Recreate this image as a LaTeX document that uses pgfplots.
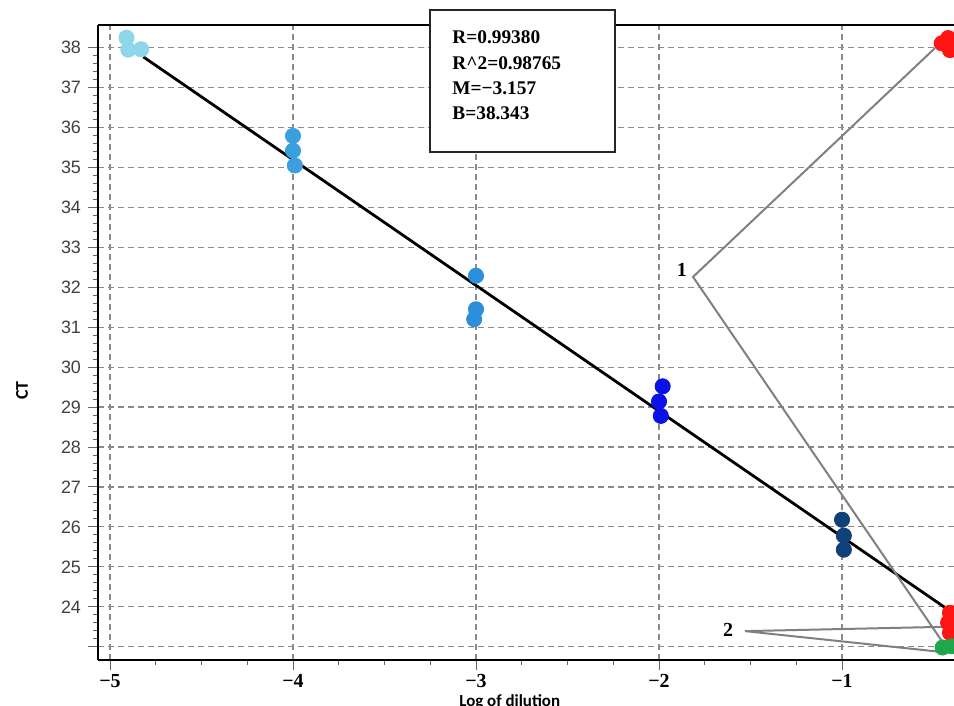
\documentclass[border=0pt]{standalone}
\usepackage{pgfplots}
\pgfplotsset{compat=1.18}
\usepackage{fontspec}
\setmainfont{Liberation Serif}
\newfontfamily\arial{Liberation Sans}
\newfontfamily\calib{Carlito}

\definecolor{ptcyan}{HTML}{8ED6EA}
\definecolor{ptblueA}{HTML}{3A9FDC}
\definecolor{ptblueB}{HTML}{2C8FDB}
\definecolor{ptblueC}{HTML}{0A12E6}
\definecolor{ptnavy}{HTML}{10407A}
\definecolor{ptred}{HTML}{FF1414}
\definecolor{ptgreen}{HTML}{1FA84A}
\definecolor{gridgray}{HTML}{8A8A8A}

\begin{document}
\begin{tikzpicture}
\begin{axis}[
    scale only axis,
    width=428bp, height=317.5bp,
    xmin=-5.0656, xmax=-0.388,
    ymin=22.667, ymax=38.568,
    axis x line*=box,
    axis y line*=left,
    axis line style={line width=1.3bp, black},
    xtick={-5,-4,-3,-2,-1},
    xticklabels={−5,−4,−3,−2,−1},
    ytick={23,...,38},
    yticklabels={,24,25,26,27,28,29,30,31,32,33,34,35,36,37,38},
    minor x tick num=3,
    minor y tick num=4,
    xtick pos=lower, ytick pos=left,
    tick align=outside,
    major tick length=5bp, minor tick length=2.5bp,
    tick style={gray!80!black, line width=0.5bp},
    xticklabel style={font=\bfseries\fontsize{10}{12}\selectfont, text=black, yshift=1.5bp},
    yticklabel style={font=\arial\fontsize{9}{10}\selectfont, text=black!75},
    grid=major,
    major grid style={gridgray, line width=0.6bp, dash pattern=on 3bp off 2bp},
    xlabel={Log of dilution},
    xlabel style={font=\calib\bfseries\fontsize{8.5}{10}\selectfont, at={(axis description cs:0.481,0)}, anchor=north, yshift=-13.8bp},
    ylabel={CT},
    ylabel style={font=\calib\bfseries\fontsize{9}{10}\selectfont, at={(axis description cs:-0.0888,0.424)}, anchor=center},
    clip=false,
    every axis plot/.append style={mark size=3.8bp},
]

% regression line
\addplot[black, line width=1.4bp] coordinates {(-4.818,37.77) (-0.437,23.98)};

% pointer lines
\draw[gray, line width=1bp] (axis cs:-0.492,37.99) -- (axis cs:-1.814,32.26) -- (axis cs:-0.448,23.1);
\draw[gray, line width=1bp] (axis cs:-0.42,23.5) -- (axis cs:-1.53,23.39) -- (axis cs:-0.48,22.88);
\node[font=\bfseries\fontsize{10}{12}\selectfont] at (axis cs:-1.875,32.43) {1};
\node[font=\bfseries\fontsize{10}{12}\selectfont] at (axis cs:-1.623,23.43) {2};

\addplot[only marks, mark=*, ptcyan, mark options={draw=ptcyan, fill=ptcyan}] coordinates {(-4.91,38.25) (-4.90,37.95) (-4.83,37.96)};
\addplot[only marks, mark=*, ptblueA, mark options={draw=ptblueA, fill=ptblueA}] coordinates {(-4.00,35.79) (-4.00,35.42) (-3.99,35.05)};
\addplot[only marks, mark=*, ptblueB, mark options={draw=ptblueB, fill=ptblueB}] coordinates {(-3.00,32.29) (-3.00,31.45) (-3.01,31.20)};
\addplot[only marks, mark=*, ptblueC, mark options={draw=ptblueC, fill=ptblueC}] coordinates {(-1.98,29.52) (-2.00,29.14) (-1.99,28.78)};
\addplot[only marks, mark=*, ptnavy, mark options={draw=ptnavy, fill=ptnavy}] coordinates {(-1.00,26.18) (-0.99,25.78) (-0.99,25.43)};
\addplot[only marks, mark=*, ptred, mark options={draw=ptred, fill=ptred}] coordinates {(-0.455,38.11) (-0.42,38.24) (-0.41,37.94)};
\addplot[only marks, mark=*, ptred, mark options={draw=ptred, fill=ptred}] coordinates {(-0.41,23.85) (-0.42,23.60) (-0.41,23.35)};
\addplot[only marks, mark=*, ptgreen, mark options={draw=ptgreen, fill=ptgreen}] coordinates {(-0.45,22.98) (-0.40,23.01)};

% statistics box
\draw[black!85, line width=0.8bp, fill=white] (axis cs:-3.251,38.94) rectangle (axis cs:-2.24,35.39);
\node[anchor=north west, align=left, inner sep=0pt, font=\bfseries\fontsize{9.7}{12.7}\selectfont] at (axis cs:-3.131,38.43)
  {R=0.99380\\R\textasciicircum2=0.98765\\M=−3.157\\B=38.343};
\end{axis}
\pgfresetboundingbox
\path[use as bounding box] ([xshift=-49bp,yshift=-23bp]current axis.south west) rectangle ([yshift=12.5bp]current axis.north east);
\end{tikzpicture}
\end{document}
